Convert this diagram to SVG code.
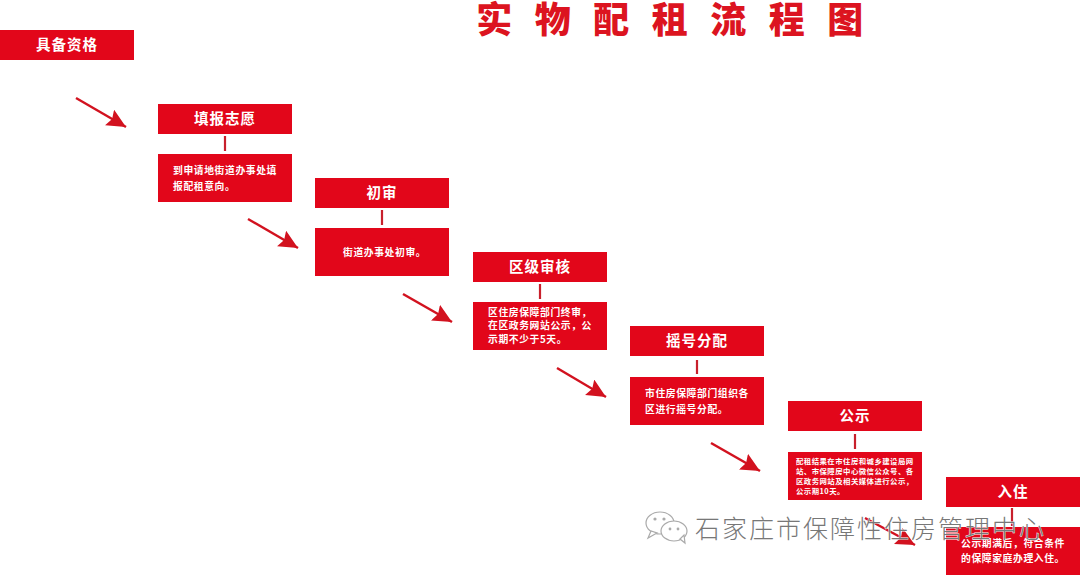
<svg xmlns="http://www.w3.org/2000/svg" width="1080" height="575" viewBox="0 0 1080 575">
<style>
text{font-family:"Noto Sans CJK SC","Noto Sans",sans-serif;text-anchor:middle}
.b{fill:#e2061a}
.h{fill:#fff;font-size:14.5px;font-weight:700;letter-spacing:1px}
.d{fill:#fff;font-size:9.8px;font-weight:700;text-anchor:start;letter-spacing:.6px}
.s{fill:#fff;font-size:7.4px;font-weight:700;text-anchor:start;letter-spacing:.45px}
.a{stroke:#d2121f;stroke-width:2.4;fill:none;marker-end:url(#m)}
.t{stroke:#c8202c;stroke-width:2.2;fill:none}
.w{fill:#777;font-size:25px;font-weight:300;text-anchor:start;letter-spacing:2px;stroke:#fff;stroke-width:.8;paint-order:stroke}
.i{fill:#fff;stroke:#aaa;stroke-width:1.2}
.e{fill:#aaa}
</style>
<defs><marker id="m" markerUnits="userSpaceOnUse" markerWidth="24" markerHeight="20" refX="19" refY="9" orient="auto"><path d="M0 0L19 9L0 18L3 9Z" fill="#d2121f"/></marker></defs>
<rect width="1080" height="575" fill="#fff"/>
<text id="title" x="681" y="33" fill="#dc1420" font-size="36" font-weight="900" letter-spacing="22.5">实物配租流程图</text>
<g id="connectors">
<path class="a" d="M76 98L126 127"/>
<path class="a" d="M248 219L298 248"/>
<path class="a" d="M403 294L452 322"/>
<path class="a" d="M557 368L606 397"/>
<path class="a" d="M711 443L760 471"/>
<path class="a" d="M865 518L915 545"/>
<path class="t" d="M225 136V151M382 210V225M540 284V299M697 360V374M855 434V449M1012 508V526"/>
</g>
<g id="n0"><rect class="b" x="0" y="30" width="134" height="30"/><text class="h" x="67" y="50">具备资格</text></g>
<g id="n1"><rect class="b" x="158" y="104" width="134" height="30"/><text class="h" x="225" y="124">填报志愿</text><rect class="b" x="158" y="154" width="134" height="48"/><text class="d" x="173" y="174">到申请地街道办事处填</text><text class="d" x="173" y="190">报配租意向。</text></g>
<g id="n2"><rect class="b" x="315" y="178" width="134" height="30"/><text class="h" x="382" y="198">初审</text><rect class="b" x="315" y="228" width="134" height="48"/><text class="d" x="343" y="256">街道办事处初审。</text></g>
<g id="n3"><rect class="b" x="473" y="252" width="134" height="30"/><text class="h" x="540" y="272">区级审核</text><rect class="b" x="473" y="302" width="134" height="48"/><text class="d" x="488" y="316">区住房保障部门终审，</text><text class="d" x="488" y="329">在区政务网站公示，公</text><text class="d" x="488" y="343">示期不少于5天。</text></g>
<g id="n4"><rect class="b" x="630" y="326" width="134" height="30"/><text class="h" x="697" y="346">摇号分配</text><rect class="b" x="630" y="377" width="134" height="48"/><text class="d" x="645" y="397">市住房保障部门组织各</text><text class="d" x="645" y="413">区进行摇号分配。</text></g>
<g id="n5"><rect class="b" x="788" y="401" width="134" height="30"/><text class="h" x="855" y="421">公示</text><rect class="b" x="788" y="452" width="134" height="48"/><text class="s" x="796" y="464">配租结果在市住房和城乡建设局网</text><text class="s" x="796" y="474">站、市保障房中心微信公众号、各</text><text class="s" x="796" y="484">区政务网站及相关媒体进行公示，</text><text class="s" x="796" y="494">公示期10天。</text></g>
<g id="n6"><rect class="b" x="946" y="477" width="134" height="30"/><text class="h" x="1013" y="497">入住</text><rect class="b" x="946" y="527" width="134" height="48"/><text class="d" x="961" y="547">公示期满后，符合条件</text><text class="d" x="961" y="562">的保障家庭办理入住。</text></g>
<g id="watermark">
<ellipse class="i" cx="660" cy="523" rx="14" ry="11"/><path class="i" d="M651 531L648 538L657 533Z"/>
<ellipse class="i" cx="674" cy="531" rx="13" ry="10"/><path class="i" d="M680 539L685 543L684 535Z"/>
<circle class="e" cx="655" cy="519" r="1.6"/><circle class="e" cx="664" cy="519" r="1.6"/><circle class="e" cx="670" cy="529" r="1.4"/><circle class="e" cx="678" cy="529" r="1.4"/>
<text class="w" x="695" y="538">石家庄市保障性住房管理中心</text></g>
</svg>
